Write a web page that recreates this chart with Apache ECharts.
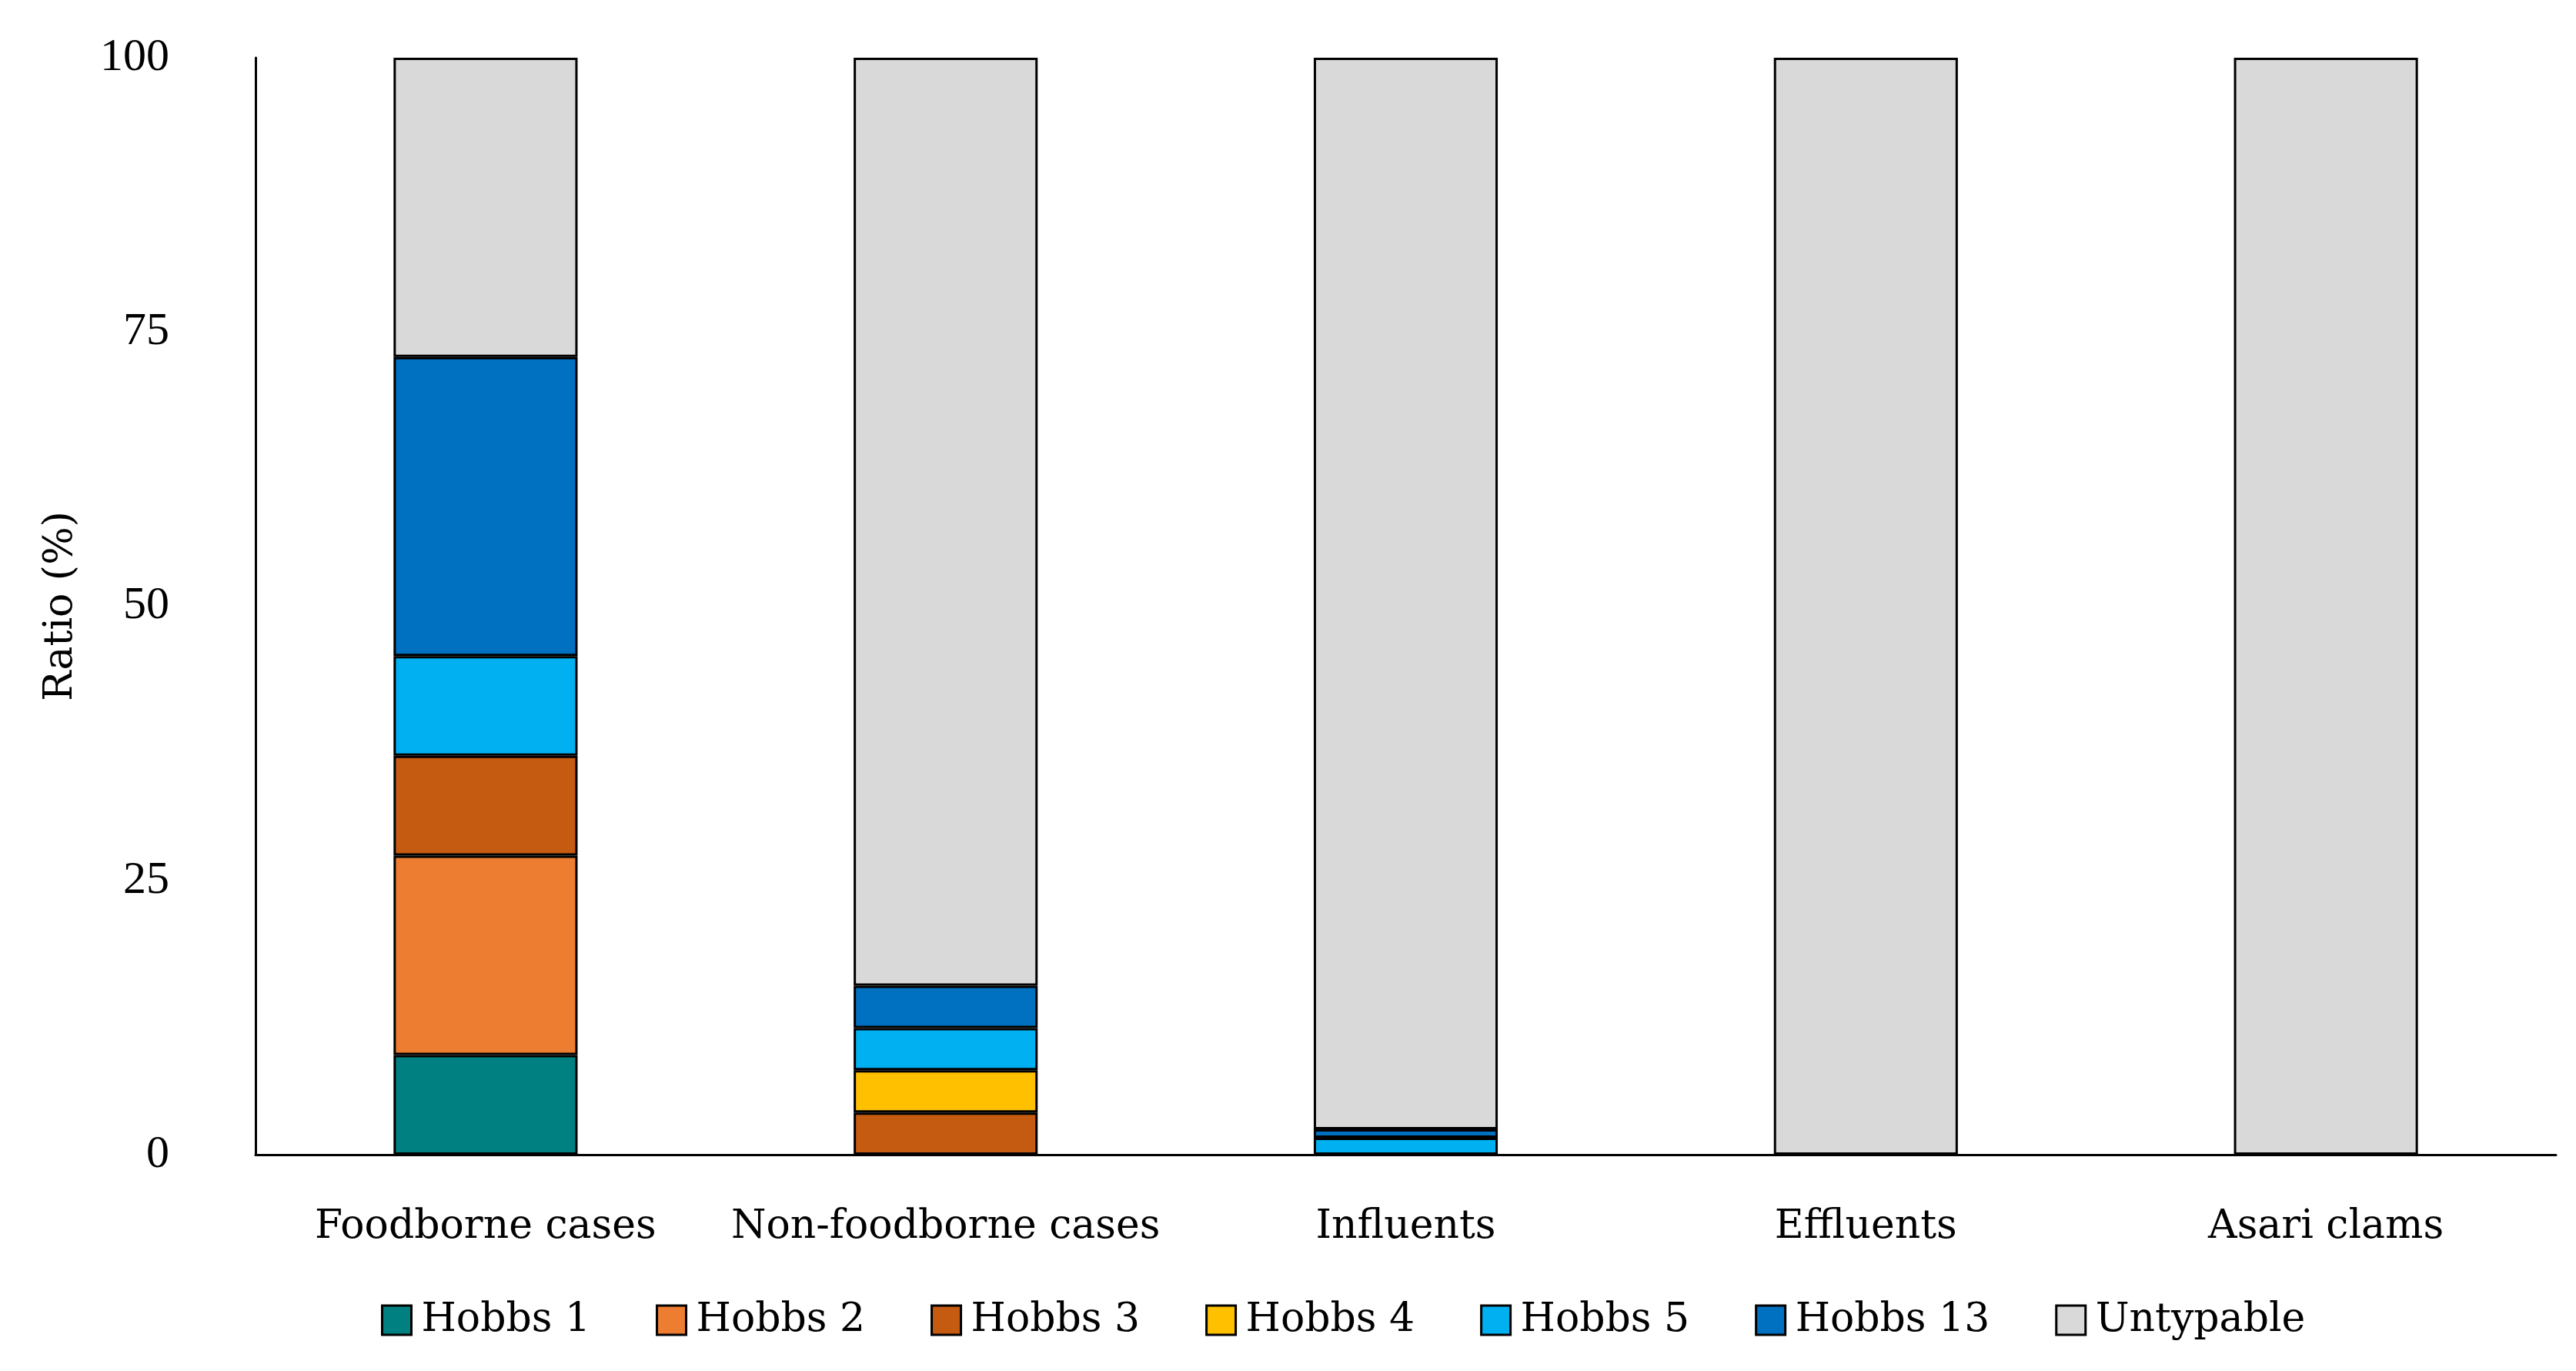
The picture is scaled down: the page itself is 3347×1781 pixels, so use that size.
<!DOCTYPE html>
<html>
<head>
<meta charset="utf-8">
<script src="https://cdn.jsdelivr.net/npm/echarts@6/dist/echarts.min.js"></script>
<style>html,body{margin:0;padding:0;background:#fff;}#c{width:3347px;height:1781px;}</style>
</head>
<body>
<div id="c"></div>
<script>
const categories = ['Foodborne cases', 'Non-foodborne cases', 'Influents', 'Effluents', 'Asari clams'];
const seriesNames = ['Hobbs 1', 'Hobbs 2', 'Hobbs 3', 'Hobbs 4', 'Hobbs 5', 'Hobbs 13', 'Untypable'];
const hobbs1 = [9.09, 0, 0, 0, 0];
const hobbs2 = [18.18, 0, 0, 0, 0];
const hobbs3 = [9.09, 3.85, 0, 0, 0];
const hobbs4 = [0, 3.85, 0, 0, 0];
const hobbs5 = [9.09, 3.85, 1.54, 0, 0];
const hobbs13 = [27.27, 3.85, 0.77, 0, 0];
const untypable = [27.28, 84.6, 97.69, 100, 100];
const yTicks = [0, 25, 50, 75, 100];
const colors = ['#008080', '#ED7D31', '#C55A11', '#FFC000', '#00B0F0', '#0070C0', '#D9D9D9'];

const seriesData = [hobbs1, hobbs2, hobbs3, hobbs4, hobbs5, hobbs13, untypable];
const TEXT_FONT = '"DejaVu Serif", "Liberation Serif", serif';
const NUM_FONT = '"Liberation Serif", "DejaVu Serif", serif';

const chart = echarts.init(document.getElementById('c'), null, {renderer: 'canvas'});
chart.setOption({
  animation: false,
  backgroundColor: '#ffffff',
  textStyle: {fontFamily: TEXT_FONT, color: '#000'},
  grid: {left: 332, right: 26, top: 75, bottom: 281, containLabel: false},
  legend: {
    data: seriesNames,
    left: 490,
    top: 1684,
    itemWidth: 38,
    itemHeight: 38,
    itemGap: 85,
    icon: 'rect',
    textStyle: {fontFamily: TEXT_FONT, fontSize: 52, color: '#000', padding: [0, 0, 0, 8]},
    itemStyle: {borderColor: '#000', borderWidth: 3}
  },
  xAxis: {
    type: 'category',
    data: categories,
    axisLine: {show: true, lineStyle: {color: '#000', width: 3}},
    axisTick: {show: false},
    axisLabel: {fontFamily: TEXT_FONT, fontSize: 52, color: '#000', margin: 68, interval: 0},
    splitLine: {show: false}
  },
  yAxis: {
    type: 'value',
    min: yTicks[0],
    max: yTicks[yTicks.length - 1],
    interval: 25,
    name: 'Ratio (%)',
    nameLocation: 'middle',
    nameGap: 227,
    nameRotate: 90,
    nameTextStyle: {fontFamily: TEXT_FONT, fontSize: 52, color: '#000'},
    axisLine: {show: true, lineStyle: {color: '#000', width: 3}},
    axisTick: {show: false},
    axisLabel: {fontFamily: NUM_FONT, fontSize: 60, color: '#000', margin: 112},
    splitLine: {show: false}
  },
  series: seriesNames.map((name, i) => ({
    name: name,
    type: 'bar',
    stack: 'total',
    barWidth: '40%',
    data: seriesData[i].map(v => (v === 0 ? '-' : v)),
    itemStyle: {color: colors[i], borderColor: '#000', borderWidth: 3}
  }))
});
</script>
</body>
</html>
